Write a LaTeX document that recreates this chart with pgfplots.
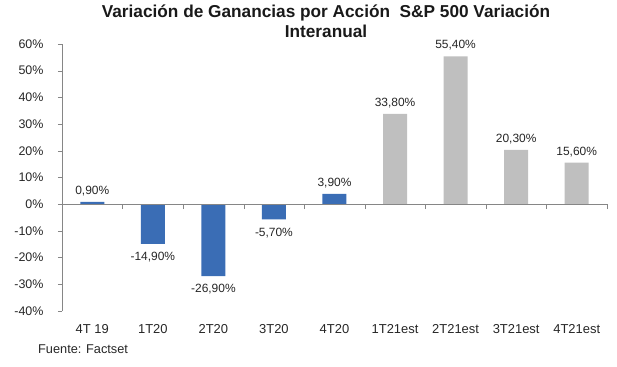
\documentclass[border=0pt]{standalone}
\usepackage{pgfplots}
\pgfplotsset{compat=1.18}
\usepackage{fontspec}
\setmainfont{Liberation Sans}
\definecolor{barblue}{HTML}{3A6DB5}
\definecolor{bargray}{HTML}{BFBFBF}
\definecolor{axgray}{HTML}{868686}
\begin{document}
\begin{tikzpicture}
\useasboundingbox (-62bp,-56bp) rectangle (555bp,311bp);
\begin{axis}[
  scale only axis, width=545bp, height=267bp,
  xmin=-0.5, xmax=8.5, ymin=-40, ymax=60,
  axis y line*=left, axis x line*=bottom,
  x axis line style={draw=none},
  y axis line style={axgray},
  ytick={-40,-30,...,60},
  yticklabel={\pgfmathprintnumber{\tick}\%},
  /pgf/number format/assume math mode=true,
  xtick={0,...,8},
  xticklabels={4T 19,1T20,2T20,3T20,4T20,1T21est,2T21est,3T21est,4T21est},
  x tick style={draw=none},
  y tick style={axgray},
  tick align=outside, major tick length=4bp,
  yticklabel style={font=\fontsize{12.5}{14}\selectfont, text=black!85, xshift=-11bp},
  xticklabel style={font=\fontsize{13}{15}\selectfont, text=black!85, yshift=-6bp},
  visualization depends on={y \as \rawy},
  nodes near coords={\pgfmathprintnumber[fixed,fixed zerofill,precision=2,use comma]{\pgfplotspointmeta}\%},
  nodes near coords style={font=\fontsize{12}{14}\selectfont, text=black!85,
    yshift={ifthenelse(\rawy<0,-5,2.5)}},
  clip=false,
]
\addplot[ybar, bar width=24bp, bar shift=0pt, fill=barblue, draw=none]
  coordinates {(0,0.9) (1,-14.9) (2,-26.9) (3,-5.7) (4,3.9)};
\addplot[ybar, bar width=24bp, bar shift=0pt, fill=bargray, draw=none]
  coordinates {(5,33.8) (6,55.4) (7,20.3) (8,15.6)};
\end{axis}
\begin{axis}[
  scale only axis, width=545bp, height=267bp,
  xmin=-0.5, xmax=8.5, ymin=-40, ymax=60,
  axis x line=middle, axis y line=none,
  x axis line style={axgray,-},
  xtick={0.5,1.5,...,8.5}, xticklabels={},
  x tick style={axgray},
  tick align=outside, major tick length=5bp,
]
\end{axis}
\node[font=\bfseries\fontsize{17.3}{19.5}\selectfont, anchor=base, text=black!90, inner sep=0pt] at (264bp,293bp)
  {Variación de Ganancias por Acción\ \ S\&P 500 Variación};
\node[font=\bfseries\fontsize{17.3}{19.5}\selectfont, anchor=base, text=black!90, inner sep=0pt] at (264bp,273bp)
  {Interanual};
\node[anchor=base west, font=\fontsize{12.8}{14}\selectfont, text=black!85, inner sep=0pt] at (-24bp,-42bp) {Fuente: Factset};
\end{tikzpicture}
\end{document}
